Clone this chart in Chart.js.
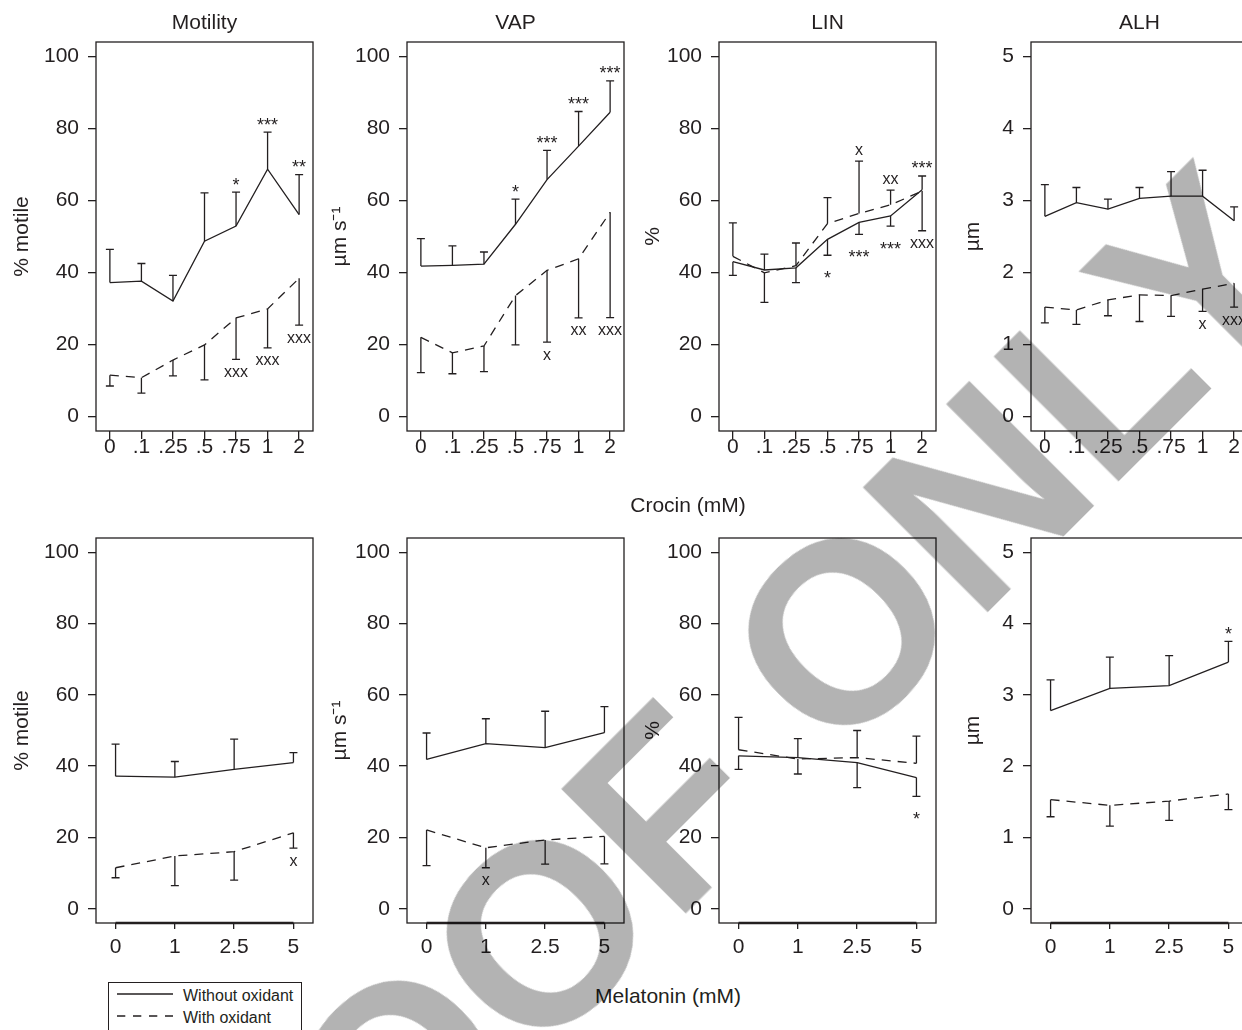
<!DOCTYPE html>
<html>
<head>
<meta charset="utf-8">
<script src="https://cdn.jsdelivr.net/npm/chart.js@4.4.1/dist/chart.umd.min.js"></script>
<style>
  body { margin: 0; background: #fff; width: 1242px; height: 1030px; overflow: hidden; position: relative;
         font-family: 'Liberation Sans', Arial, sans-serif; color: #231f20; }
  canvas { position: absolute; }
  .label { position: absolute; font-size: 21px; line-height: 1; white-space: nowrap; transform: translate(-50%, -50%); }
  #legend { position: absolute; left: 108px; top: 982px; width: 192px; height: 60px; border: 1.3px solid #231f20; }
  #legend svg { position: absolute; left: 8px; top: 0; }
  #legend .item { position: absolute; left: 74px; font-size: 16px; line-height: 1; transform: translateY(-50%); white-space: nowrap; }
  #watermark { position: absolute; left: 668px; top: 806px; font: bold 256px 'Liberation Sans', Arial, sans-serif;
               line-height: 1; color: #b3b3b3; white-space: nowrap; mix-blend-mode: multiply;
               transform: translate(-50%, -50%) rotate(-45deg); pointer-events: none; z-index: 5; }
</style>
</head>
<body>
<canvas id="c0" width="319" height="471" style="left:0px;top:0px"></canvas>
<canvas id="c1" width="319" height="471" style="left:311px;top:0px"></canvas>
<canvas id="c2" width="319" height="471" style="left:623px;top:0px"></canvas>
<canvas id="c3" width="319" height="471" style="left:935px;top:0px"></canvas>
<canvas id="c4" width="319" height="467" style="left:0px;top:496px"></canvas>
<canvas id="c5" width="319" height="467" style="left:311px;top:496px"></canvas>
<canvas id="c6" width="319" height="467" style="left:623px;top:496px"></canvas>
<canvas id="c7" width="319" height="467" style="left:935px;top:496px"></canvas>

<div class="label" style="left:688px;top:504px">Crocin (mM)</div>
<div class="label" style="left:668px;top:995px">Melatonin (mM)</div>

<div id="legend">
  <svg width="64" height="50">
    <line x1="0" y1="11" x2="56" y2="11" stroke="#231f20" stroke-width="1.3"/>
    <line x1="0" y1="33" x2="56" y2="33" stroke="#231f20" stroke-width="1.3" stroke-dasharray="8.3 7.7"/>
  </svg>
  <div class="item" style="top:13px">Without oxidant</div>
  <div class="item" style="top:35px">With oxidant</div>
</div>

<div id="watermark">PROOF ONLY</div>

<script>
// x categories (equally spaced) and y ticks
var crocinLabels = ['0', '.1', '.25', '.5', '.75', '1', '2'];
var melatoninLabels = ['0', '1', '2.5', '5'];
var pctTicks = [0, 20, 40, 60, 80, 100];
var umTicks = [0, 1, 2, 3, 4, 5];

// crocin: mean and SE, without oxidant / with oxidant, plus significance marks
var crocMot = [37.2, 37.6, 32.1, 48.7, 52.9, 68.7, 56.1];
var crocMotSe = [9.2, 4.9, 7.1, 13.4, 9.4, 10.3, 11.1];
var crocMotMarks = ['', '', '', '', '*', '***', '**'];
var crocMotOx = [11.5, 10.8, 15.7, 19.9, 27.4, 29.9, 38.4];
var crocMotOxSe = [3.0, 4.3, 4.4, 9.7, 11.5, 10.8, 13.0];
var crocMotOxMarks = ['', '', '', '', 'xxx', 'xxx', 'xxx'];

var crocVap = [41.8, 42.0, 42.3, 53.4, 65.8, 75.1, 84.5];
var crocVapSe = [7.6, 5.4, 3.4, 7.0, 8.1, 9.6, 8.7];
var crocVapMarks = ['', '', '', '*', '***', '***', '***'];
var crocVapOx = [22.0, 17.7, 19.6, 33.6, 40.6, 43.8, 56.7];
var crocVapOxSe = [9.8, 5.8, 7.1, 13.7, 19.9, 16.4, 29.2];
var crocVapOxMarks = ['', '', '', '', 'x', 'xx', 'xxx'];

var crocLin = [43.0, 40.7, 41.3, 49.2, 53.9, 55.7, 63.0];
var crocLinSe = [3.8, 4.4, 4.1, 4.4, 3.3, 2.8, 3.8];
var crocLinMarks = ['', '', '', '*', '***', '***', '***'];
var crocLinOx = [44.5, 39.9, 41.9, 53.6, 56.4, 58.8, 62.6];
var crocLinOxSe = [9.3, 8.2, 6.3, 7.2, 14.5, 4.1, 11.0];
var crocLinOxMarks = ['', '', '', '', 'x', 'xx', 'xxx'];

var crocAlh = [2.78, 2.97, 2.88, 3.03, 3.06, 3.06, 2.72];
var crocAlhSe = [0.44, 0.21, 0.14, 0.15, 0.34, 0.36, 0.19];
var crocAlhMarks = ['', '', '', '', '', '', ''];
var crocAlhOx = [1.52, 1.48, 1.62, 1.69, 1.68, 1.77, 1.85];
var crocAlhOxSe = [0.22, 0.20, 0.22, 0.37, 0.29, 0.31, 0.33];
var crocAlhOxMarks = ['', '', '', '', '', 'x', 'xxx'];

// melatonin
var melMot = [37.2, 36.9, 39.1, 41.0];
var melMotSe = [9.0, 4.4, 8.5, 2.8];
var melMotMarks = ['', '', '', ''];
var melMotOx = [11.5, 14.8, 16.0, 21.3];
var melMotOxSe = [2.8, 8.3, 8.0, 4.3];
var melMotOxMarks = ['', '', '', 'x'];

var melVap = [41.9, 46.3, 45.2, 49.4];
var melVapSe = [7.4, 7.0, 10.2, 7.3];
var melVapMarks = ['', '', '', ''];
var melVapOx = [22.1, 17.1, 19.3, 20.3];
var melVapOxSe = [10.0, 5.6, 6.8, 7.7];
var melVapOxMarks = ['', 'x', '', ''];

var melLin = [42.9, 42.4, 41.0, 36.8];
var melLinSe = [3.8, 5.3, 7.0, 5.3];
var melLinMarks = ['', '', '', '*'];
var melLinOx = [44.6, 42.0, 42.4, 40.8];
var melLinOxSe = [9.1, 4.2, 7.6, 7.6];
var melLinOxMarks = ['', '', '', ''];

var melAlh = [2.78, 3.09, 3.13, 3.46];
var melAlhSe = [0.43, 0.44, 0.42, 0.29];
var melAlhMarks = ['', '', '', '*'];
var melAlhOx = [1.53, 1.45, 1.51, 1.61];
var melAlhOxSe = [0.24, 0.29, 0.27, 0.22];
var melAlhOxMarks = ['', '', '', ''];

var ink = '#231f20';
var fontFam = "'Liberation Sans', Arial, sans-serif";
Chart.defaults.font.family = fontFam;
Chart.defaults.color = ink;

// box round the plot area, and R-style heavy axis segment on the bottom row
var frame = {
    id: 'frame',
    afterDraw: function (chart, args, opts) {
        var a = chart.chartArea, ctx = chart.ctx;
        ctx.save();
        ctx.strokeStyle = ink;
        ctx.lineWidth = 1.3;
        ctx.strokeRect(a.left, a.top, a.right - a.left, a.bottom - a.top);
        if (opts.heavyAxis) {
            var xs = chart.scales.x;
            ctx.lineWidth = 2.6;
            ctx.beginPath();
            ctx.moveTo(xs.getPixelForValue(xs.ticks[0].value), a.bottom);
            ctx.lineTo(xs.getPixelForValue(xs.ticks[xs.ticks.length - 1].value), a.bottom);
            ctx.stroke();
        }
        ctx.restore();
    }
};

// one-sided SE bars (away from the other series) and the significance marks
var errorBars = {
    id: 'errorBars',
    afterDatasetsDraw: function (chart) {
        var ctx = chart.ctx;
        var xs = chart.scales.x, ys = chart.scales.y;
        var sets = chart.data.datasets;
        ctx.save();
        ctx.strokeStyle = ink;
        ctx.fillStyle = ink;
        ctx.lineWidth = 1.3;
        ctx.setLineDash([]);
        sets.forEach(function (ds, k) {
            var other = sets[1 - k];
            ds.data.forEach(function (pt, i) {
                var dir = pt.y >= other.data[i].y ? 1 : -1;
                var px = xs.getPixelForValue(pt.x);
                var y0 = ys.getPixelForValue(pt.y);
                var y1 = ys.getPixelForValue(pt.y + dir * ds.se[i]);
                ctx.beginPath();
                ctx.moveTo(px, y0);
                ctx.lineTo(px, y1);
                ctx.moveTo(px - 4, y1);
                ctx.lineTo(px + 4, y1);
                ctx.stroke();
                var txt = ds.marks[i];
                if (txt) {
                    var star = txt.charAt(0) === '*';
                    ctx.font = (star ? '18px ' : '16px ') + fontFam;
                    ctx.textAlign = 'center';
                    ctx.textBaseline = 'alphabetic';
                    var m = ctx.measureText(txt);
                    var cy = dir > 0 ? y1 - 11 : y1 + (star ? 19 : 13);
                    ctx.fillText(txt, px, cy + (m.actualBoundingBoxAscent - m.actualBoundingBoxDescent) / 2);
                }
            });
        });
        ctx.restore();
    }
};

function points(values) {
    return values.map(function (v, i) { return { x: i, y: v }; });
}

function panel(id, cfg) {
    var top = cfg.row === 0;
    var n = cfg.labels.length - 1;
    var xPad = top ? 0.44 : 0.33;
    var yPad = (cfg.yTicks[cfg.yTicks.length - 1] - cfg.yTicks[0]) * 0.04;
    new Chart(document.getElementById(id), {
        type: 'line',
        data: {
            datasets: [{
                label: 'Without oxidant',
                data: points(cfg.no),
                se: cfg.noSe,
                marks: cfg.noMarks,
                borderColor: ink,
                borderWidth: 1.3,
                pointRadius: 0,
                tension: 0,
                fill: false
            }, {
                label: 'With oxidant',
                data: points(cfg.ox),
                se: cfg.oxSe,
                marks: cfg.oxMarks,
                borderColor: ink,
                borderWidth: 1.3,
                borderDash: [9, 7],
                pointRadius: 0,
                tension: 0,
                fill: false
            }]
        },
        options: {
            responsive: false,
            animation: false,
            events: [],
            layout: { padding: { top: top ? 0 : 42, right: 6, left: 0, bottom: 0 } },
            plugins: {
                legend: { display: false },
                tooltip: { enabled: false },
                title: {
                    display: top,
                    text: cfg.title,
                    fullSize: false,
                    color: ink,
                    font: { size: 21, weight: 'normal' },
                    padding: { top: 11, bottom: 5.8 }
                },
                frame: { heavyAxis: !top }
            },
            scales: {
                x: {
                    type: 'linear',
                    position: 'bottom',
                    min: -xPad,
                    max: n + xPad,
                    afterBuildTicks: function (s) {
                        s.ticks = cfg.labels.map(function (l, i) { return { value: i }; });
                    },
                    afterFit: function (s) { s.height = 40; },
                    ticks: {
                        callback: function (v) { return cfg.labels[v]; },
                        font: { size: 21 },
                        padding: top ? -4.6 : 5.4,
                        maxRotation: 0,
                        autoSkip: false,
                        color: ink
                    },
                    grid: { drawOnChartArea: false, tickLength: top ? 8 : 6, color: ink, lineWidth: 1.3 },
                    border: { display: false }
                },
                y: {
                    type: 'linear',
                    position: 'left',
                    min: cfg.yTicks[0] - yPad,
                    max: cfg.yTicks[cfg.yTicks.length - 1] + yPad,
                    afterBuildTicks: function (s) {
                        s.ticks = cfg.yTicks.map(function (v) { return { value: v }; });
                    },
                    afterFit: function (s) { s.width = 96; },
                    ticks: { font: { size: 21 }, padding: 9, color: ink },
                    grid: { drawOnChartArea: false, tickLength: 8, color: ink, lineWidth: 1.3 },
                    border: { display: false },
                    title: {
                        display: true,
                        text: cfg.yTitle,
                        color: ink,
                        font: { size: 21 },
                        padding: { top: cfg.yTitlePad, bottom: 0 }
                    }
                }
            }
        },
        plugins: [frame, errorBars]
    });
}

panel('c0', { row: 0, title: 'Motility', labels: crocinLabels, yTicks: pctTicks, yTitle: '% motile', yTitlePad: 10,
    no: crocMot, noSe: crocMotSe, noMarks: crocMotMarks, ox: crocMotOx, oxSe: crocMotOxSe, oxMarks: crocMotOxMarks });
panel('c1', { row: 0, title: 'VAP', labels: crocinLabels, yTicks: pctTicks, yTitle: 'µm s⁻¹', yTitlePad: 16.4,
    no: crocVap, noSe: crocVapSe, noMarks: crocVapMarks, ox: crocVapOx, oxSe: crocVapOxSe, oxMarks: crocVapOxMarks });
panel('c2', { row: 0, title: 'LIN', labels: crocinLabels, yTicks: pctTicks, yTitle: '%', yTitlePad: 17.7,
    no: crocLin, noSe: crocLinSe, noMarks: crocLinMarks, ox: crocLinOx, oxSe: crocLinOxSe, oxMarks: crocLinOxMarks });
panel('c3', { row: 0, title: 'ALH', labels: crocinLabels, yTicks: umTicks, yTitle: 'µm', yTitlePad: 25.5,
    no: crocAlh, noSe: crocAlhSe, noMarks: crocAlhMarks, ox: crocAlhOx, oxSe: crocAlhOxSe, oxMarks: crocAlhOxMarks });

panel('c4', { row: 1, title: '', labels: melatoninLabels, yTicks: pctTicks, yTitle: '% motile', yTitlePad: 10,
    no: melMot, noSe: melMotSe, noMarks: melMotMarks, ox: melMotOx, oxSe: melMotOxSe, oxMarks: melMotOxMarks });
panel('c5', { row: 1, title: '', labels: melatoninLabels, yTicks: pctTicks, yTitle: 'µm s⁻¹', yTitlePad: 16.4,
    no: melVap, noSe: melVapSe, noMarks: melVapMarks, ox: melVapOx, oxSe: melVapOxSe, oxMarks: melVapOxMarks });
panel('c6', { row: 1, title: '', labels: melatoninLabels, yTicks: pctTicks, yTitle: '%', yTitlePad: 17.7,
    no: melLin, noSe: melLinSe, noMarks: melLinMarks, ox: melLinOx, oxSe: melLinOxSe, oxMarks: melLinOxMarks });
panel('c7', { row: 1, title: '', labels: melatoninLabels, yTicks: umTicks, yTitle: 'µm', yTitlePad: 25.5,
    no: melAlh, noSe: melAlhSe, noMarks: melAlhMarks, ox: melAlhOx, oxSe: melAlhOxSe, oxMarks: melAlhOxMarks });
</script>
</body>
</html>
